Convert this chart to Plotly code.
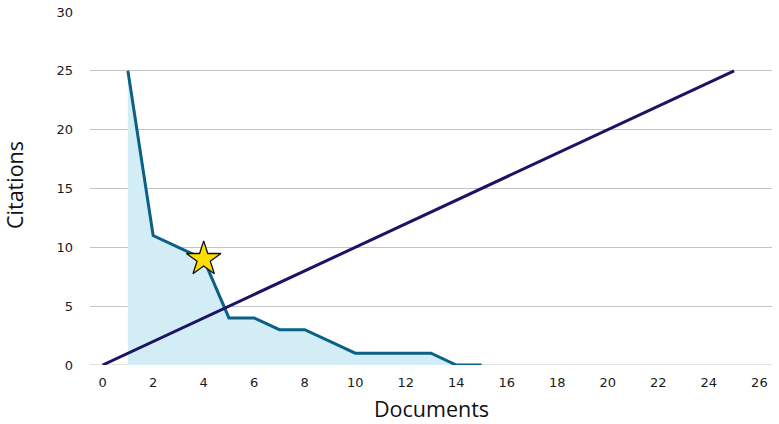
import plotly.graph_objects as go

documents = list(range(1, 16))
citations = [25, 11, 10, 9, 4, 4, 3, 3, 2, 1, 1, 1, 1, 0, 0]
diag_x = [0, 25]
diag_y = [0, 25]
h_index_x = [4]
h_index_y = [9]

W, H = 779, 424
ML, MR, MT, MB = 90, 7, 12, 59

fig = go.Figure()
fig.add_trace(go.Scatter(
    x=documents, y=citations, mode="lines",
    line=dict(color="#0b6185", width=3),
    fill="tozeroy", fillcolor="#d3edf6",
    showlegend=False, hoverinfo="skip"))
fig.add_trace(go.Scatter(
    x=diag_x, y=diag_y, mode="lines",
    line=dict(color="#1b1464", width=3),
    showlegend=False))
fig.add_trace(go.Scatter(
    x=h_index_x, y=h_index_y, mode="markers",
    marker=dict(symbol="star", size=26, color="#ffdd00",
                line=dict(color="#111111", width=1.3)),
    showlegend=False))

pw = W - ML - MR
ph = H - MT - MB

fig.update_layout(
    width=W, height=H,
    margin=dict(l=ML, r=MR, t=MT, b=MB),
    paper_bgcolor="white", plot_bgcolor="white",
    font=dict(family="DejaVu Sans", size=13, color="#1a1a1a"),
    xaxis=dict(range=[-0.5, 26.5], tickvals=list(range(0, 27, 2)),
               showgrid=False, zeroline=False, showline=False,
               ticks="", ticklen=0, automargin=False,
               ticklabelstandoff=8),
    yaxis=dict(range=[0, 30], tickvals=[0, 5, 10, 15, 20, 25, 30],
               showgrid=True, gridcolor="#c4c4c8", gridwidth=1.2,
               zeroline=False, showline=False, ticks="", ticklen=0,
               automargin=False, ticklabelstandoff=16),
    annotations=[
        dict(text="Documents", xref="paper", yref="paper",
             x=(431 - ML) / pw, y=(H - MB - 408) / ph,
             xanchor="center", yanchor="middle", showarrow=False,
             font=dict(family="Open Sans", size=21.5, color="#111111")),
        dict(text="Citations", xref="paper", yref="paper", textangle=-90,
             x=(14 - ML) / pw, y=(H - MB - 185) / ph,
             xanchor="center", yanchor="middle", showarrow=False,
             font=dict(family="Open Sans", size=21.5, color="#111111")),
    ],
)
fig.add_hline(y=0, line=dict(color="#c4c4c8", width=1.2), layer="below")

fig.write_html("out.html", config={"displayModeBar": False},
               post_script="document.body.style.margin='0';")
